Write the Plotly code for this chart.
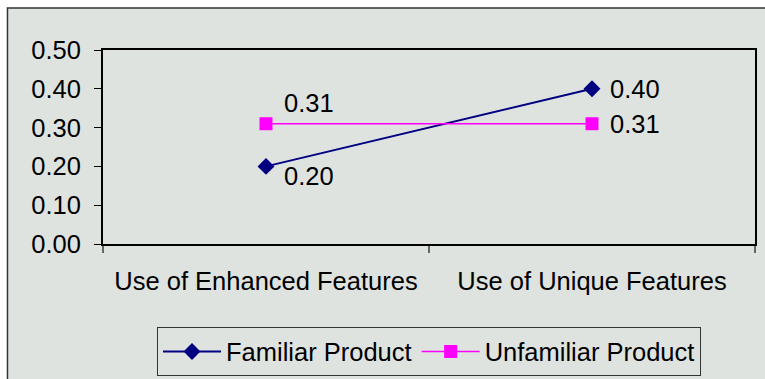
import plotly.graph_objects as go

categories = ["Use of Enhanced Features", "Use of Unique Features"]
familiar = [0.20, 0.40]
unfamiliar = [0.31, 0.31]
y_ticks = [0.0, 0.1, 0.2, 0.3, 0.4, 0.5]

FONT = "Liberation Sans, Arial, sans-serif"
FS = 25.5
NAVY = "#000080"
MAGENTA = "#FF00FF"
PANEL = "#DFE3E0"

fig = go.Figure()
fig.add_trace(go.Scatter(
    x=categories, y=familiar, name="Familiar Product", mode="lines+markers",
    line=dict(color=NAVY, width=2),
    marker=dict(symbol="diamond", size=13, color=NAVY),
))
fig.add_trace(go.Scatter(
    x=categories, y=unfamiliar, name="Unfamiliar Product", mode="lines+markers",
    line=dict(color=MAGENTA, width=1.5),
    marker=dict(symbol="square", size=13, color=MAGENTA),
))

# value labels: (category, value, vertical shift in px)
labels = [
    (categories[0], familiar[0], -10),
    (categories[1], familiar[1], 0),
    (categories[0], unfamiliar[0], 21),
    (categories[1], unfamiliar[1], 0),
]
for cat, val, dy in labels:
    fig.add_annotation(
        x=cat, y=val, text=f"{val:.2f}", showarrow=False,
        xanchor="left", yanchor="middle", xshift=16, yshift=dy,
        font=dict(family=FONT, size=FS, color="black"),
    )

# chart panel with dark frame behind the plot
fig.add_shape(
    type="rect", xref="paper", yref="paper", layer="below",
    x0=-0.1465, x1=1.05, y0=-0.75, y1=1.2165,
    fillcolor=PANEL, line=dict(color="#333333", width=1.5),
)

fig.update_layout(
    width=765, height=379,
    margin=dict(l=103, r=10, t=50, b=135, autoexpand=False),
    paper_bgcolor="white",
    plot_bgcolor="rgba(0,0,0,0)",
    font=dict(family=FONT, size=FS, color="black"),
    showlegend=True,
    legend=dict(
        orientation="h", x=0.5, xanchor="center", y=-0.43, yanchor="top",
        bgcolor=PANEL, bordercolor="#333333", borderwidth=1,
        itemwidth=58,
        font=dict(family=FONT, size=FS, color="black"),
    ),
    xaxis=dict(
        type="category", range=[-0.5, 1.5], tickson="boundaries",
        ticks="outside", ticklen=7, tickcolor="#666666", tickwidth=2,
        showline=True, linecolor="black", linewidth=2, mirror=True,
        showgrid=False, zeroline=False, ticklabelstandoff=13,
        tickfont=dict(family=FONT, size=FS, color="black"),
    ),
    yaxis=dict(
        range=[0, 0.5], tickvals=y_ticks, tickformat=".2f",
        ticks="outside", ticklen=7, tickcolor="black", tickwidth=1,
        showline=True, linecolor="black", linewidth=2, mirror=True,
        showgrid=False, zeroline=False, ticklabelstandoff=8,
        tickfont=dict(family=FONT, size=FS, color="black"),
    ),
)

fig.write_html("out.html")
